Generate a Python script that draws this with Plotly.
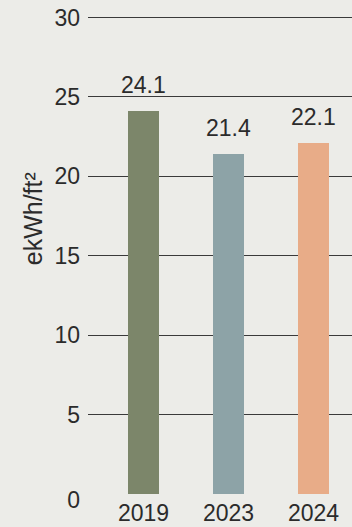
import plotly.graph_objects as go

# Energy use intensity by year
years = ["2019", "2023", "2024"]
eui = [24.1, 21.4, 22.1]
bar_colors = ["#7C866A", "#8DA3A7", "#E8AC88"]
grid_ticks = [5, 10, 15, 20, 25, 30]
y_title = "ekWh/ft²"

BG = "#ECECE8"
INK = "#2B2B2B"
FONT = "Liberation Sans, Arial, Helvetica, sans-serif"
FS = 23

fig = go.Figure()
fig.add_trace(go.Bar(
    x=years,
    y=eui,
    marker=dict(color=bar_colors, line=dict(width=0)),
    width=0.365,
    hoverinfo="skip",
))

# Value labels above each bar (positioned by category index)
for i, v in enumerate(eui):
    fig.add_annotation(
        x=i, y=v, xref="x", yref="y",
        text=f"{v}", showarrow=False,
        yanchor="middle", yshift=26,
        font=dict(family=FONT, size=FS, color=INK),
    )

# Rotated axis title
fig.add_annotation(
    x=-0.208, y=0.575, xref="paper", yref="paper",
    text=y_title, textangle=-90, showarrow=False,
    xanchor="center", yanchor="middle",
    font=dict(family=FONT, size=25, color=INK),
)

fig.update_layout(
    width=352, height=527,
    margin=dict(l=88, r=0, t=16, b=33, autoexpand=False),
    paper_bgcolor=BG, plot_bgcolor=BG,
    showlegend=False,
    bargap=0,
    font=dict(family=FONT, size=FS, color=INK),
    xaxis=dict(
        type="category",
        range=[-0.653, 2.453],
        showgrid=False, zeroline=False, showline=False,
        ticks="", tickfont=dict(family=FONT, size=FS, color=INK),
        ticklabelstandoff=3,
        automargin=False,
        fixedrange=True,
    ),
    yaxis=dict(
        range=[0, 30.1],
        tickvals=grid_ticks,
        showgrid=True, gridcolor="#3A3A3A", gridwidth=1,
        zeroline=False, showline=False,
        ticks="", tickfont=dict(family=FONT, size=FS, color=INK),
        ticklabelstandoff=7,
        automargin=False,
        fixedrange=True,
    ),
    # zero label without a gridline, nudged slightly below the baseline
    yaxis2=dict(
        overlaying="y", side="left", anchor="x",
        range=[0, 30.1],
        tickvals=[0],
        showgrid=False, zeroline=False, showline=False,
        ticks="", tickfont=dict(family=FONT, size=FS, color=INK),
        ticklabelstandoff=7, ticklabelshift=6,
        automargin=False,
        fixedrange=True,
    ),
)

# invisible trace to activate the secondary axis
fig.add_trace(go.Scatter(x=[years[0]], y=[0], yaxis="y2", mode="markers",
                         marker=dict(opacity=0), hoverinfo="skip"))

fig.write_html("out.html", config={"displayModeBar": False})
